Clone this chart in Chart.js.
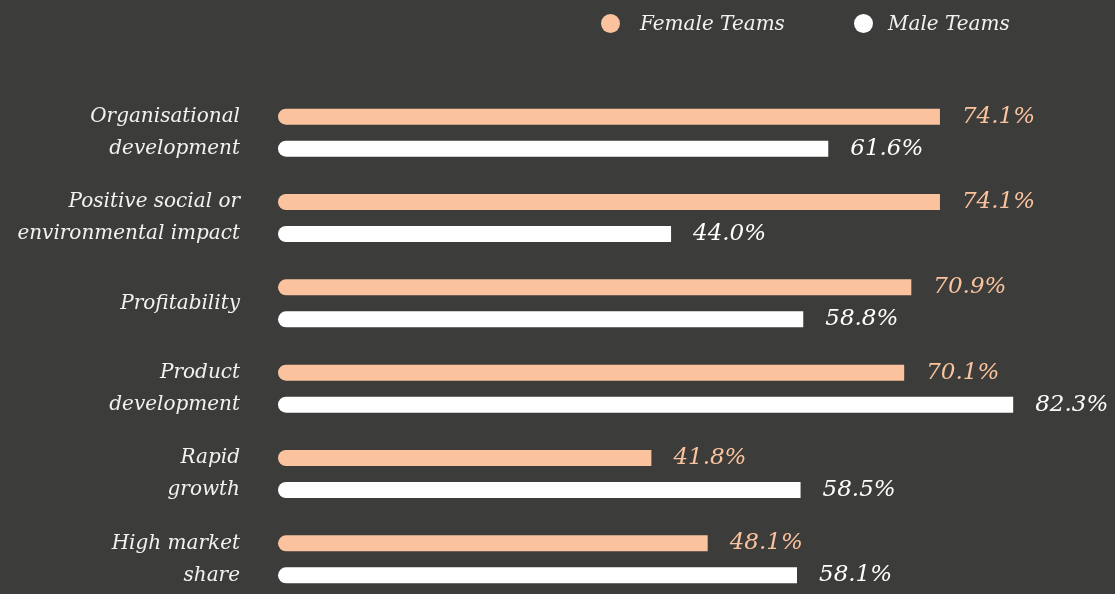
<!DOCTYPE html>
<html>
<head>
<meta charset="utf-8">
<script src="https://cdn.jsdelivr.net/npm/chart.js@4.4.1/dist/chart.umd.min.js"></script>
<style>
  html, body { margin: 0; padding: 0; background: #3c3c3a; overflow: hidden; }
  #cadre { position: relative; width: 1115px; height: 594px; overflow: hidden; }
  #graphique { position: absolute; left: 0; top: 0; }
  .legende { position: absolute; top: 11px; font: italic 20px "DejaVu Serif", serif; color: #f2f2f2; white-space: nowrap; }
  .legende i { position: absolute; top: 3px; width: 19px; height: 19px; border-radius: 50%; }
</style>
</head>
<body>
<div id="cadre">
  <canvas id="graphique" width="1115" height="602"></canvas>
  <div class="legende" style="left:601px;"><i style="left:0; background:#fbc39d;"></i><span style="margin-left:39px;">Female Teams</span></div>
  <div class="legende" style="left:854px;"><i style="left:0; background:#ffffff;"></i><span style="margin-left:34px;">Male Teams</span></div>
</div>
<script>
// categories (multi-line labels)
const categories = [
  ["Organisational", "development"],
  ["Positive social or", "environmental impact"],
  ["Profitability"],
  ["Product", "development"],
  ["Rapid", "growth"],
  ["High market", "share"],
];
const femaleTeams = [74.1, 74.1, 70.9, 70.1, 41.8, 48.1];
const maleTeams = [61.6, 44.0, 58.8, 82.3, 58.5, 58.1];

const couleurFemme = "#fbc39d";
const couleurHomme = "#ffffff";

// étiquettes de valeur au bout des barres
const etiquettesValeurs = {
  id: "etiquettesValeurs",
  afterDatasetsDraw(chart) {
    const ctx = chart.ctx;
    ctx.save();
    ctx.font = "italic 23px 'DejaVu Serif', serif";
    ctx.textBaseline = "middle";
    ctx.textAlign = "left";
    chart.data.datasets.forEach((ds, i) => {
      const meta = chart.getDatasetMeta(i);
      meta.data.forEach((bar, j) => {
        ctx.fillStyle = ds.backgroundColor;
        ctx.fillText(ds.data[j].toFixed(1) + "%", bar.x + 22, bar.y);
      });
    });
    ctx.restore();
  },
};

const styleBarre = {
  maxBarThickness: 16,
  categoryPercentage: 0.751,
  barPercentage: 0.5,
  borderSkipped: "end",
  borderRadius: 8,
  borderWidth: 0,
  clip: false,
};

new Chart(document.getElementById("graphique"), {
  type: "bar",
  data: {
    labels: categories,
    datasets: [
      { label: "Female Teams", data: femaleTeams, backgroundColor: couleurFemme, ...styleBarre },
      { label: "Male Teams", data: maleTeams, backgroundColor: couleurHomme, ...styleBarre },
    ],
  },
  options: {
    indexAxis: "y",
    responsive: false,
    animation: false,
    layout: { padding: { top: 90, right: 0, bottom: 0, left: 0 } },
    plugins: {
      legend: { display: false },
      tooltip: { enabled: false },
    },
    scales: {
      x: { display: false, min: 0, max: 93.7 },
      y: {
        grid: { display: false, drawTicks: false },
        border: { display: false },
        afterFit: (s) => {
          s.width = 278;
          s.paddingTop = 0;
          s.paddingBottom = 0;
        },
        ticks: {
          color: "#f2f2f2",
          padding: 38,
          font: { family: "'DejaVu Serif', serif", style: "italic", size: 20, lineHeight: 1.6 },
        },
      },
    },
  },
  plugins: [etiquettesValeurs],
});
</script>
</body>
</html>
